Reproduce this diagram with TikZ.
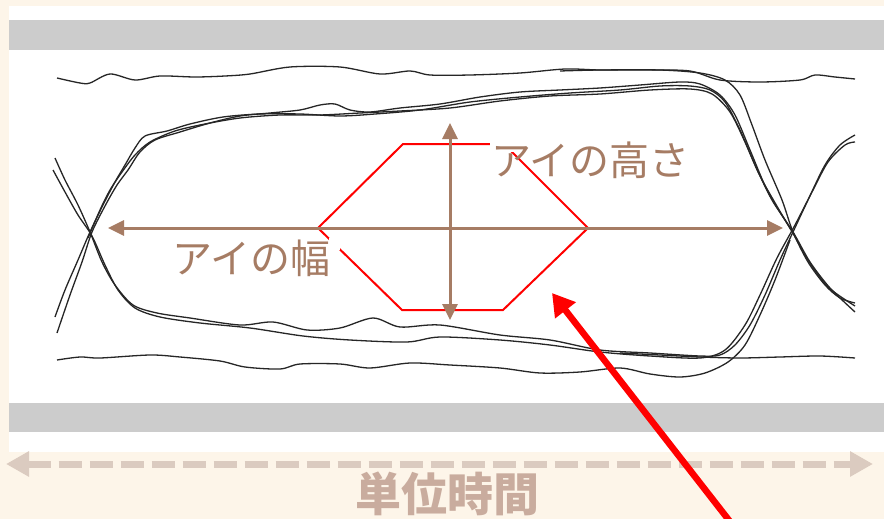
\documentclass[tikz,border=0pt]{standalone}
\usepackage{fontspec}
\newfontfamily\cjk{Noto Sans CJK JP}
\usetikzlibrary{arrows.meta}
\definecolor{cream}{RGB}{253,245,233}
\definecolor{barg}{RGB}{204,204,204}
\definecolor{eyebrown}{RGB}{166,124,100}
\definecolor{unitdash}{RGB}{219,203,192}
\definecolor{unittext}{RGB}{201,172,158}
\begin{document}
\begin{tikzpicture}[x=1pt,y=-1pt,
  trace/.style={line width=1.3pt, black!85, line join=round},
  brownarrow/.style={line width=3pt, eyebrown, {Triangle[length=16pt,width=15pt]}-{Triangle[length=16pt,width=15pt]}},
  lbl/.style={font=\cjk\fontsize{40}{40}\selectfont, text=eyebrown, inner sep=1pt},
  unitarrow/.style={line width=7pt, unitdash, dash pattern=on 23pt off 8pt, {Triangle[length=23pt,width=24pt]}-{Triangle[length=23pt,width=24pt]}},
  unitlbl/.style={font=\cjk\bfseries\fontsize{46}{46}\selectfont, text=unittext, inner sep=0pt},
  redarrow/.style={line width=6.5pt, red, -{Triangle[length=22pt,width=25pt]}},
  hexa/.style={red, line width=2pt, line join=miter}]
\useasboundingbox (0,0) rectangle (884,519);
\clip (0,0) rectangle (884,519);
\fill[cream] (0,0) rectangle (884,519);
\fill[white] (9,6) rectangle (884,452);
\fill[barg] (9,20) rectangle (884,50);
\fill[barg] (9,403) rectangle (884,432);
% top line
\draw[trace] plot[smooth,tension=0.5] coordinates {(57,78) (80,83) (90,83) (110,74) (135,80) (160,76) (195,77) (225,76) (250,74) (290,67) (340,67) (380,74) (410,71) (430,75) (470,75) (520,73) (565,69) (600,70) (650,70) (690,71) (720,80) (760,82) (800,80) (815,75) (835,77) (855,79)};
% top -> falling at right
\draw[trace] plot[smooth,tension=0.5] coordinates {(560,71) (600,70) (660,70) (700,73) (725,80) (740,95) (752,125) (765,160) (782,200) (793,232) (808,262) (825,285) (840,298) (855,303)};
% upper boundary traces
\draw[trace] plot[smooth,tension=0.5] coordinates {(55,317) (65,290) (78,260) (90,232) (103,205) (115,182) (125,165) (135,148) (145,136) (167,131) (190,124) (223,117) (260,114) (300,114) (340,116) (375,114) (420,110) (470,102) (520,97) (570,93) (620,90) (660,86) (690,86) (710,90) (725,102) (740,130) (755,165) (772,200) (793,232) (810,262) (830,288) (855,312)};
\draw[trace] plot[smooth,tension=0.5] coordinates {(57,333) (70,295) (82,262) (92,232) (105,206) (117,185) (128,170) (140,152) (155,140) (180,132) (210,123) (240,116) (270,113) (300,110) (320,105) (335,104) (350,110) (370,112) (400,108) (440,104) (480,97) (520,92) (560,90) (600,88) (640,85) (680,82) (700,84) (720,95) (735,115) (750,150) (768,192) (790,228) (808,260) (828,287) (855,306)};
\draw[trace] plot[smooth,tension=0.5] coordinates {(88,238) (100,210) (110,190) (122,172) (135,155) (150,142) (175,131) (205,124) (240,118) (280,115) (320,115) (360,113) (400,111) (450,108) (500,101) (550,96) (600,94) (650,90) (690,89) (712,94) (730,112) (745,142) (760,176) (778,208) (791,230)};
% lower boundary traces
\draw[trace] plot[smooth,tension=0.5] coordinates {(55,158) (65,180) (78,205) (90,232) (102,262) (115,285) (133,305) (157,313) (190,318) (240,325) (273,322) (307,330) (340,328) (373,318) (400,327) (440,325) (500,335) (550,340) (600,350) (650,353) (700,356) (720,355) (735,345) (750,325) (765,295) (780,260) (793,232) (808,200) (825,165) (840,145) (855,135)};
\draw[trace] plot[smooth,tension=0.5] coordinates {(53,170) (65,192) (78,215) (92,236) (105,265) (118,290) (135,308) (160,317) (200,323) (250,328) (303,336) (350,340) (407,342) (440,337) (500,340) (550,345) (600,352) (650,356) (700,358) (725,350) (745,325) (760,295) (777,258) (795,225) (812,192) (828,162) (845,145) (855,142)};
\draw[trace] plot[smooth,tension=0.5] coordinates {(620,353) (660,355) (700,357) (740,358) (780,357) (820,356) (855,358)};
% bottom line
\draw[trace] plot[smooth,tension=0.5] coordinates {(57,360) (80,357) (100,358) (150,355) (180,357) (220,361) (245,367) (280,369) (300,364) (340,364) (370,368) (410,363) (450,365) (500,368) (540,373) (580,372) (620,368) (650,374) (680,377) (705,373) (728,362) (745,345) (760,315) (775,280) (790,240)};
% eye mask
\draw[hexa] (318,228) -- (403,144) -- (504,144) -- (588,228) -- (503,310) -- (402,310) -- cycle;
\coordinate (wl) at (108,228);
\coordinate (wr) at (783,228);
\coordinate (ht) at (450,123);
\coordinate (hb) at (450,320);
\draw[brownarrow] (wl) -- (wr);
\draw[brownarrow] (ht) -- (hb);
\fill[white] (490,140) rectangle (515,152);
\fill[white] (329,238) rectangle (340,250);
\node[lbl] (hlabel) at (590,160) {アイの高さ};
\node[lbl] (wlabel) at (251,258) {アイの幅};
\coordinate (ul) at (6,464);
\coordinate (ur) at (873,464);
\draw[unitarrow] (ul) -- (ur);
\node[unitlbl] (unit) at (447,494) {単位時間};
\coordinate (rs) at (742,537);
\coordinate (rt) at (552,293);
\draw[redarrow] (rs) -- (rt);
\end{tikzpicture}
\end{document}
